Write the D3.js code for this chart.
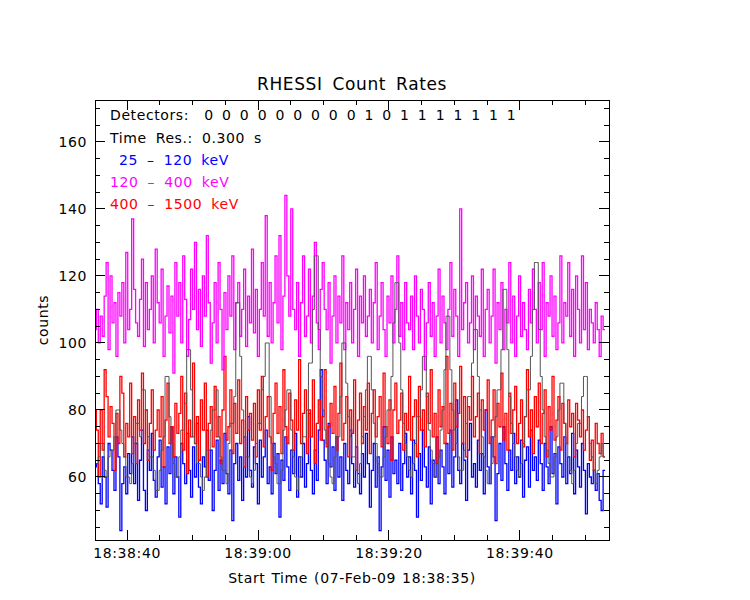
<!DOCTYPE html>
<html><head><meta charset="utf-8">
<script src="https://cdn.jsdelivr.net/npm/d3@7"></script>
<style>body{margin:0;background:#fff}text{font-family:"DejaVu Sans",sans-serif;font-size:14px;letter-spacing:0.6px;word-spacing:4px}</style>
</head><body><div id="chart"></div>
<script>
const step = 0.3;
const blue = [63,64,58,52,66,60,51,70,68,62,56,72,66,44,58,63,55,67,61,72,
58,70,53,65,74,56,50,68,62,73,59,54,66,71,57,63,52,69,61,75,
55,66,60,48,70,64,58,73,62,54,69,60,76,57,52,66,63,74,59,68,
50,62,71,56,65,58,73,61,55,68,47,64,70,59,66,53,72,60,78,62,
57,69,64,52,71,60,66,74,58,63,55,70,61,67,48,65,59,72,63,56,
68,61,73,54,66,60,70,57,64,79,62,55,68,59,74,92,71,65,58,76,
63,69,56,72,60,66,53,70,62,58,74,64,57,69,61,55,67,60,73,64,
51,62,70,57,66,44,63,75,59,68,54,72,61,65,58,70,56,64,73,60,
66,55,71,62,48,67,59,74,63,57,69,52,65,60,72,58,68,63,55,70,
61,74,57,66,83,62,58,70,65,53,68,76,60,64,57,71,62,67,55,80,
63,58,72,66,47,61,70,59,75,64,56,68,62,73,58,66,60,71,54,65,
69,57,74,62,66,59,71,64,56,70,63,58,75,61,67,52,69,64,60,72,
58,66,61,73,55,68,63,57,70,62,49,64,60,58,62,56,61,53,50,62];
const red = [80,74,60,80,68,92,84,72,81,76,62,79,70,90,85,66,76,72,88,67,
78,64,83,74,91,70,80,65,76,86,68,74,80,72,84,63,77,88,70,75,
66,82,73,79,90,68,85,61,77,72,94,70,78,65,83,74,88,60,76,81,
69,87,72,78,64,80,96,71,75,86,67,82,73,89,70,77,63,84,74,79,
71,82,66,86,74,90,69,78,84,72,62,79,88,73,81,67,92,75,70,85,
77,68,83,74,95,70,79,86,67,80,72,89,64,76,83,71,78,92,69,75,
82,73,87,68,79,94,71,76,84,66,80,73,89,62,77,85,70,81,74,88,
67,79,86,72,78,84,69,91,75,70,83,65,80,88,73,77,85,68,79,74,
90,71,78,83,66,87,74,80,69,85,76,92,72,79,64,86,75,81,70,96,
73,82,68,88,75,79,93,70,84,66,81,77,90,72,78,85,67,83,74,80,
89,70,77,86,64,82,75,91,71,79,68,85,73,80,87,70,76,83,69,78,
92,72,80,67,84,75,88,70,79,86,66,81,74,90,71,77,84,68,82,76,
70,83,75,79,66,82,77,72,80,68,74,78,65,71,62,76,70,67,73,66];
const magenta = [104,110,100,108,102,114,124,98,120,106,112,96,115,108,118,100,127,104,110,137,
116,106,102,113,125,99,118,104,110,120,100,128,112,106,122,96,108,117,103,114,
91,124,108,118,100,126,113,96,107,122,110,130,104,116,99,120,108,132,112,94,
106,118,100,124,110,92,115,104,120,108,126,98,112,118,102,110,122,99,114,106,
128,103,116,96,110,124,108,138,102,118,100,112,126,106,132,98,114,144,120,108,
140,110,104,118,96,112,126,102,108,122,100,114,130,106,98,116,124,110,104,118,
94,108,120,100,114,106,126,98,112,104,118,100,110,122,96,114,106,120,102,108,
116,100,112,124,98,108,118,104,96,114,106,120,100,110,126,102,112,98,118,106,
104,114,98,120,108,100,116,110,92,106,118,102,112,96,108,122,100,114,106,98,
110,124,102,116,108,96,140,104,112,118,100,106,120,98,114,108,102,122,96,110,
116,100,108,122,94,112,104,118,98,110,106,124,100,114,96,108,120,102,112,104,
98,116,106,122,110,100,118,104,124,96,112,108,120,102,114,98,106,126,100,112,
108,124,102,116,96,120,110,100,126,104,118,98,110,106,100,112,104,96,108,104];
const gray = [64,64,66,70,70,62,60,66,68,68,72,80,80,74,70,66,60,60,58,64,
70,76,76,72,86,86,80,72,66,66,62,56,56,62,68,72,90,90,78,70,
64,60,60,66,74,74,82,98,98,86,72,70,64,64,60,56,60,68,68,74,
80,80,86,72,66,62,62,58,70,76,76,84,112,112,96,80,72,66,66,60,
58,62,70,76,76,86,90,100,100,84,70,66,64,58,58,62,74,80,86,86,
74,66,60,56,60,66,72,72,80,94,94,110,126,126,104,90,80,74,70,64,
60,58,66,72,72,84,100,100,88,78,72,66,66,62,58,64,72,78,86,96,
96,86,76,70,64,60,60,66,72,80,80,90,106,118,118,100,86,76,70,66,
62,60,64,70,78,78,86,96,96,84,74,68,64,60,60,66,74,80,92,108,
108,92,80,74,70,66,62,62,68,76,84,84,94,104,104,90,80,72,66,62,
58,58,64,72,78,86,86,98,116,116,98,84,76,70,66,62,60,64,70,78,
86,86,96,110,124,124,104,90,80,72,68,64,60,60,66,72,80,88,88,76,
70,66,62,58,62,70,76,76,84,90,90,78,70,66,62,58,62,66,70,66];
const xTickLabels = ["18:38:40","18:39:00","18:39:20","18:39:40"];
const xTickVals = [5,25,45,65];
const detectors = [0,0,0,0,0,0,0,0,0,1,0,1,1,1,1,1,1,1];
const legend = [["Time Res.: 0.300 s","#000"],[" 25 \u2013 120 keV","#0000ff"],
  ["120 \u2013 400 keV","#ff00ff"],["400 \u2013 1500 keV","#ff0000"]];

const L=95,R=609,T=100,B=540;
const svg=d3.select("#chart").append("svg").attr("width",750).attr("height",600);
const x=d3.scaleLinear().domain([0.1,78.6]).range([L,R]);
const y=d3.scaleLinear().domain([41.2,172.5]).range([B,T]);
const g=svg.append("g");
g.append("defs").append("clipPath").attr("id","c").append("rect")
  .attr("x",L).attr("y",T).attr("width",R-L).attr("height",B-T);
const line=d3.line().x((d,i)=>x(i*step)).y(d=>y(d)).curve(d3.curveStepAfter);
[[blue,"#0000ff",2],[red,"#ff0000",2],[magenta,"#ff00ff",2],[gray,"#555",1]].forEach(([s,c,w])=>{
  g.append("path").datum(s.concat([s[s.length-1]])).attr("d",line).attr("fill","none")
   .attr("stroke",c).attr("stroke-width",w===2?1.3:1)
   .attr("clip-path","url(#c)");
});
// frame and inward ticks
svg.append("rect").attr("x",L).attr("y",T).attr("width",R-L).attr("height",B-T)
  .attr("fill","none").attr("stroke","#000").attr("shape-rendering","crispEdges");
const tk=svg.append("g").attr("stroke","#000").attr("shape-rendering","crispEdges");
d3.range(0,80,5).forEach(v=>{ if(x(v)<L||x(v)>R) return;
  const len=(v%20===5)?10:5;
  tk.append("line").attr("x1",x(v)).attr("x2",x(v)).attr("y1",B).attr("y2",B-len);
  tk.append("line").attr("x1",x(v)).attr("x2",x(v)).attr("y1",T).attr("y2",T+len);});
d3.range(45,175,5).forEach(v=>{ if(y(v)<T) return;
  const len=(v%20===0)?10:5;
  tk.append("line").attr("y1",y(v)).attr("y2",y(v)).attr("x1",L).attr("x2",L+len);
  tk.append("line").attr("y1",y(v)).attr("y2",y(v)).attr("x1",R).attr("x2",R-len);});
xTickVals.forEach((v,i)=>svg.append("text").attr("x",x(v)).attr("y",558)
  .attr("text-anchor","middle").style("word-spacing","0").text(xTickLabels[i]));
[60,80,100,120,140,160].forEach(v=>svg.append("text").attr("x",L-8).attr("y",y(v)+5)
  .attr("text-anchor","end").text(v));
svg.append("text").attr("x",352).attr("y",90).attr("text-anchor","middle")
  .style("font-size","17px").text("RHESSI Count Rates");
svg.append("text").attr("x",352).attr("y",583).attr("text-anchor","middle")
  .style("word-spacing","1px").text("Start Time (07-Feb-09 18:38:35)");
svg.append("text").attr("transform","translate(48,320) rotate(-90)")
  .attr("text-anchor","middle").text("counts");
svg.append("text").attr("x",110).attr("y",120).text("Detectors:");
detectors.forEach((d,i)=>svg.append("text").attr("x",209+i*17.8).attr("y",120)
  .attr("text-anchor","middle").text(d));
legend.forEach(([t,c],i)=>svg.append("text").attr("x",110).attr("y",142.5+i*22)
  .attr("fill",c).style("white-space","pre").text(t));
</script></body></html>
